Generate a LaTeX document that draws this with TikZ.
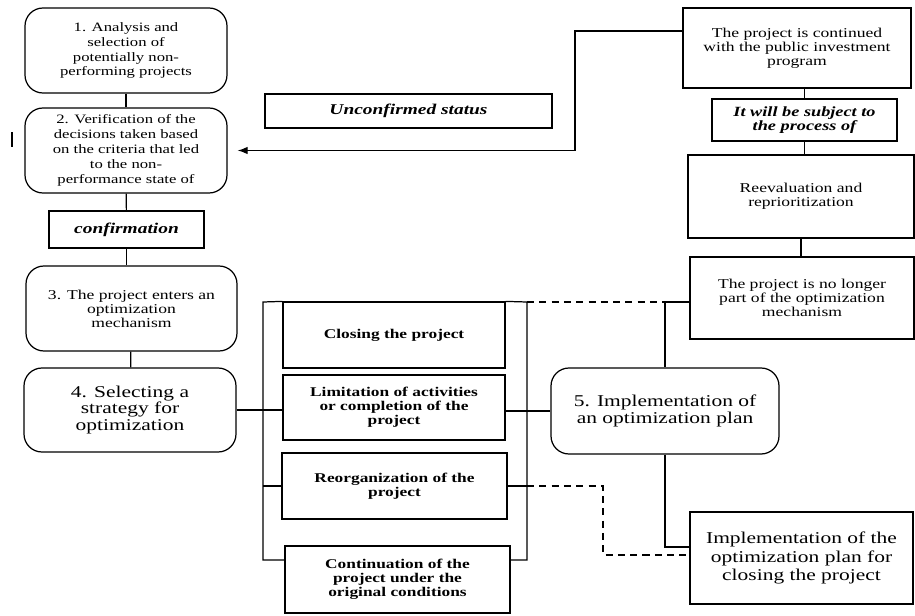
\documentclass[tikz,border=0pt]{standalone}
\usepackage{fontspec}
\setmainfont[FakeStretch=1.3]{Liberation Serif}
\usetikzlibrary{arrows.meta, positioning, calc}

\begin{document}
\begin{tikzpicture}[x=0.02cm, y=-0.02cm,
  wh/.style 2 args={minimum width={#1*0.02cm}, minimum height={#2*0.02cm}},
  stage/.style={draw, line width=0.7pt, rounded corners=0.36cm, align=center,
    inner sep=1pt, font=\fontsize{7.3}{8.5}\selectfont},
  bigstage/.style={stage, font=\fontsize{9.4}{9.6}\selectfont},
  plain/.style={draw, line width=0.7pt, align=center, inner sep=1pt,
    font=\fontsize{7.7}{7.9}\selectfont},
  strat/.style={plain, font=\bfseries\fontsize{7.6}{8}\selectfont},
  status/.style={plain, font=\bfseries\itshape\fontsize{8.5}{8.5}\selectfont},
  link/.style={line width=0.7pt},
  maybe/.style={link, dash pattern=on 4pt off 3pt},
  arr/.style={link, -{Latex[length=2mm, width=1.5mm]}}
]
  \useasboundingbox (0,0) rectangle (915,615);

  \node[stage, wh={202}{85}] (analysis) at (126,50.5) {1. Analysis and\\selection of\\potentially non-\\performing projects};
  \node[stage, wh={202}{85}] (verify) at (126,150.5) {2. Verification of the\\decisions taken based\\on the criteria that led\\to the non-\\performance state of};
  \node[status, wh={155}{37}] (confirm) at (126.5,229.5) {confirmation};
  \node[status, wh={287}{34}] (unconf) at (408.5,111) {Unconfirmed status};
  \node[stage, wh={211}{85}, font=\fontsize{7.7}{8}\selectfont] (enter) at (131.5,308.5) {3. The project enters an\\optimization\\mechanism};
  \node[bigstage, wh={212}{84}] (select) at (130,410) {4. Selecting a\\strategy for\\optimization};

  \node[strat, wh={222}{66}] (close) at (394,335) {Closing the project};
  \node[strat, wh={222}{65}] (limit) at (394,407.5) {Limitation of activities\\or completion of the\\project};
  \node[strat, wh={225}{66}] (reorg) at (394.5,486) {Reorganization of the\\project};
  \node[strat, wh={225}{67}] (cont) at (397.5,579.5) {Continuation of the\\project under the\\original conditions};

  \node[bigstage, wh={228}{86}] (implement) at (665,411) {5. Implementation of\\an optimization plan};
  \node[plain, wh={223}{92}, font=\fontsize{9.4}{10.4}\selectfont] (closeplan) at (801.5,558) {Implementation of the\\optimization plan for\\closing the project};

  \node[plain, wh={228}{80}] (continued) at (797,48) {The project is continued\\with the public investment\\program};
  \node[status, wh={185}{42}, font=\bfseries\itshape\fontsize{8}{8.2}\selectfont] (subject) at (804.5,120) {It will be subject to\\the process of};
  \node[plain, wh={226}{83}] (reeval) at (801,196.5) {Reevaluation and\\reprioritization};
  \node[plain, wh={224}{82}] (nolonger) at (802,298) {The project is no longer\\part of the optimization\\mechanism};

  \coordinate (ltop) at (263,302);
  \coordinate (lbot) at (263,560);
  \coordinate (rtop) at (527,302);
  \coordinate (rbot) at (527,560);
  \coordinate (fork) at (implement.north |- rtop);
  \coordinate (dip) at (603,555);
  \coordinate (turn) at (575,31);

  \draw[link] (analysis) -- (verify);
  \draw[link] (verify) -- (confirm);
  \draw[link] (confirm.south) -- (confirm.south |- enter.north);
  \draw[link] (enter) -- (select);
  \draw[link] (select.east) -- (select.east -| limit.west);

  \draw[link] (close.north west) -- (ltop) -- (lbot) -- (lbot -| cont.west);
  \draw[link] (reorg.west) -- (reorg.west -| ltop);
  \draw[link] (close.north east) -- (rtop) -- (rbot) -- (rbot -| cont.east);
  \draw[link] (implement.west -| limit.east) -- (implement.west);
  \draw[link] (reorg.east) -- (reorg.east -| rtop);

  \draw[maybe] (rtop) -- (fork);
  \draw[link] (fork) -- (fork -| nolonger.west);
  \draw[link] (fork) -- (implement.north);
  \draw[maybe] (reorg.east -| rtop) -| (dip) -- (dip -| closeplan.west);
  \draw[link] (implement.south) |- ($(closeplan.west)+(0,-11)$);

  \draw[link] (subject.north) -- (subject.north |- continued.south);
  \draw[link] (subject.south) -- (subject.south |- reeval.north);
  \draw[link] (reeval.south) -- (reeval.south |- nolonger.north);
  \draw[arr, shorten >=0.2cm] (continued.west |- turn) -- (turn) |- (verify.east);

  \draw[link] (12,132) -- (12,147);
\end{tikzpicture}
\end{document}
